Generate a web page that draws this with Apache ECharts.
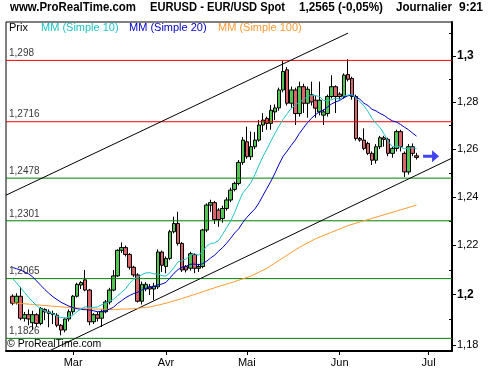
<!DOCTYPE html>
<html><head><meta charset="utf-8">
<script src="https://cdn.jsdelivr.net/npm/echarts@6/dist/echarts.min.js"></script>
<style>html,body{margin:0;padding:0;background:#fff}#c{width:500px;height:370px}</style>
</head><body><div id="c"></div><script>
// ---------- data ----------
const monthTickIdx = [15, 38, 58, 81, 103];
const monthNames = ['Mar', 'Avr', 'Mai', 'Jun', 'Jul'];
const yTickValues = [1.18, 1.2, 1.22, 1.24, 1.26, 1.28, 1.3];
const yMinorTickValues = [1.19, 1.21, 1.23, 1.25, 1.27, 1.29, 1.31];

const open = [1.1994,1.1968,1.1994,1.1906,1.1920,1.1888,1.1920,1.1885,1.1941,1.1931,
1.1925,1.1918,1.1878,1.1859,1.1903,1.1932,1.1994,1.2039,1.2060,1.2019,
1.1892,1.1920,1.1906,1.1932,1.1971,1.2019,1.2076,1.2180,1.2191,1.2163,
1.2111,1.2080,1.1974,1.2023,1.2032,1.2023,1.2032,1.2173,1.2114,1.2147,
1.2256,1.2290,1.2208,1.2114,1.2107,1.2163,1.2107,1.2114,1.2263,1.2366,
1.2376,1.2345,1.2310,1.2352,1.2387,1.2431,1.2456,1.2544,1.2631,1.2568,
1.2610,1.2638,1.2702,1.2730,1.2709,1.2758,1.2775,1.2852,1.2939,1.2795,
1.2852,1.2751,1.2866,1.2795,1.2831,1.2808,1.2758,1.2744,1.2751,1.2824,
1.2866,1.2834,1.2824,1.2919,1.2902,1.2824,1.2645,1.2638,1.2624,1.2582,
1.2553,1.2610,1.2648,1.2641,1.2582,1.2603,1.2674,1.2582,1.2504,1.2610,
1.2572];
const close = [1.1966,1.1994,1.1906,1.1920,1.1903,1.1920,1.1885,1.1945,1.1931,1.1925,
1.1921,1.1878,1.1859,1.1903,1.1932,1.1994,1.2042,1.2049,1.2019,1.1892,
1.1920,1.1906,1.1932,1.1971,1.2019,1.2076,1.2180,1.2191,1.2163,1.2111,
1.2080,1.1974,1.2042,1.2042,1.2023,1.2035,1.2173,1.2119,1.2147,1.2256,
1.2290,1.2208,1.2100,1.2100,1.2166,1.2107,1.2114,1.2263,1.2366,1.2376,
1.2306,1.2306,1.2352,1.2387,1.2428,1.2456,1.2544,1.2638,1.2568,1.2610,
1.2638,1.2702,1.2723,1.2709,1.2765,1.2775,1.2852,1.2932,1.2795,1.2852,
1.2751,1.2866,1.2795,1.2855,1.2801,1.2774,1.2808,1.2758,1.2824,1.2866,
1.2824,1.2824,1.2916,1.2898,1.2824,1.2645,1.2638,1.2603,1.2582,1.2553,
1.2610,1.2648,1.2641,1.2582,1.2603,1.2674,1.2610,1.2504,1.2610,1.2582,
1.2565];
const low = [1.1958,1.1961,1.1898,1.1893,1.1878,1.1860,1.1873,1.1878,1.1898,1.1870,
1.1883,1.1870,1.1838,1.1850,1.1893,1.1921,1.1989,1.2023,1.2014,1.1878,
1.1883,1.1893,1.1871,1.1926,1.1961,1.2014,1.2072,1.2169,1.2155,1.2102,
1.2072,1.1969,1.1961,1.2014,1.1999,1.1978,1.2023,1.2092,1.2087,1.2140,
1.2249,1.2199,1.2092,1.2090,1.2097,1.2087,1.2092,1.2107,1.2254,1.2338,
1.2288,1.2276,1.2293,1.2343,1.2378,1.2423,1.2448,1.2534,1.2559,1.2554,
1.2600,1.2631,1.2672,1.2682,1.2682,1.2723,1.2763,1.2842,1.2785,1.2775,
1.2702,1.2738,1.2753,1.2733,1.2785,1.2733,1.2743,1.2702,1.2738,1.2815,
1.2753,1.2810,1.2815,1.2889,1.2810,1.2636,1.2631,1.2595,1.2575,1.2533,
1.2539,1.2600,1.2610,1.2570,1.2564,1.2590,1.2590,1.2483,1.2493,1.2570,
1.2556];
const high = [1.2002,1.2006,1.2032,1.1931,1.1941,1.1936,1.1926,1.1951,1.1946,1.1941,
1.1936,1.1926,1.1883,1.1908,1.1941,1.1999,1.2048,1.2055,1.2100,1.2023,
1.1926,1.1931,1.1941,1.1979,1.2028,1.2100,1.2184,1.2212,1.2199,1.2169,
1.2117,1.2087,1.2053,1.2051,1.2043,1.2048,1.2184,1.2179,1.2155,1.2264,
1.2318,1.2338,1.2214,1.2120,1.2174,1.2169,1.2125,1.2268,1.2373,1.2388,
1.2383,1.2353,1.2363,1.2398,1.2438,1.2463,1.2554,1.2651,1.2695,1.2674,
1.2672,1.2723,1.2753,1.2738,1.2788,1.2790,1.2862,1.2978,1.2951,1.2867,
1.2862,1.2888,1.2879,1.2867,1.2888,1.2827,1.2888,1.2769,1.2832,1.2916,
1.2872,1.2842,1.2924,1.2985,1.2909,1.2832,1.2651,1.2688,1.2631,1.2590,
1.2621,1.2656,1.2656,1.2648,1.2610,1.2682,1.2682,1.2590,1.2621,1.2624,
1.2584];

const mm10 = [1.2065,1.2048,1.2028,1.2009,1.1989,1.1972,1.1956,1.1944,1.1934,1.1929,
1.1924,1.1914,1.1909,1.1907,1.1911,1.1918,1.1933,1.1943,1.1952,1.1949,
1.1949,1.1951,1.1959,1.1966,1.1973,1.1982,1.1996,1.2010,1.2024,1.2047,
1.2063,1.2070,1.2081,1.2088,1.2089,1.2084,1.2084,1.2077,1.2075,1.2090,
1.2111,1.2133,1.2139,1.2145,1.2159,1.2166,1.2160,1.2174,1.2196,1.2208,
1.2210,1.2220,1.2245,1.2273,1.2300,1.2335,1.2378,1.2416,1.2436,1.2459,
1.2492,1.2532,1.2569,1.2601,1.2635,1.2668,1.2698,1.2727,1.2750,1.2774,
1.2786,1.2802,1.2809,1.2825,1.2828,1.2828,1.2824,1.2806,1.2808,1.2810,
1.2817,1.2813,1.2826,1.2830,1.2832,1.2819,1.2801,1.2784,1.2760,1.2730,
1.2708,1.2691,1.2663,1.2633,1.2610,1.2613,1.2610,1.2601,1.2603,1.2606,
1.2602];
const mm20 = [1.2110,1.2105,1.2100,1.2092,1.2084,1.2072,1.2055,1.2038,1.2021,1.2006,
1.1992,1.1981,1.1970,1.1962,1.1954,1.1948,1.1944,1.1941,1.1940,1.1939,
1.1936,1.1932,1.1933,1.1936,1.1942,1.1950,1.1965,1.1976,1.1988,1.1997,
1.2005,1.2010,1.2019,1.2026,1.2031,1.2033,1.2040,1.2043,1.2050,1.2068,
1.2087,1.2102,1.2111,1.2115,1.2123,1.2124,1.2121,1.2125,1.2135,1.2148,
1.2160,1.2176,1.2191,1.2209,1.2229,1.2251,1.2268,1.2294,1.2315,1.2333,
1.2350,1.2375,1.2406,1.2436,1.2466,1.2500,1.2537,1.2570,1.2592,1.2616,
1.2638,1.2666,1.2689,1.2712,1.2731,1.2746,1.2759,1.2766,1.2779,1.2792,
1.2801,1.2807,1.2818,1.2827,1.2830,1.2823,1.2812,1.2795,1.2785,1.2769,
1.2762,1.2751,1.2743,1.2730,1.2720,1.2715,1.2705,1.2693,1.2682,1.2668,
1.2655];
const mm100Idx = [0,5,10,15,20,25,30,34,38,42,46,50,55,59,63,67,71,75,79,83,88,92,96,100];
const mm100Val = [1.1968,1.1961,1.1954,1.1948,1.1943,1.1941,1.1944,1.1951,1.1966,1.1985,1.2006,1.2028,
1.2053,1.2075,1.2107,1.2150,1.2192,1.2227,1.2254,1.2281,1.2306,1.2326,1.2346,1.2366];

const levelValues = [1.298, 1.2716, 1.2478, 1.2301, 1.2065, 1.1826];
const levelLabels = ['1,298', '1,2716', '1,2478', '1,2301', '1,2065', '1,1826'];
const levelIsResistance = [true, true, false, false, false, false];
const upperChannel = [[-1.609, 1.2407], [83.04, 1.3099]];
const lowerChannel = [[-1.609, 1.1695], [108.79, 1.2562]];
const lastPriceMarker = [103.6, 1.2570];

const titleParts = ['www.ProRealTime.com', 'EURUSD - EUR/USD Spot', '1,2565 (-0,05%)', 'Journalier', '9:21'];

// ---------- chart ----------
const FONT = '"Liberation Sans", Arial, sans-serif';
const X_MIN = -1.609, X_MAX = 108.787;
const Y_MIN = 1.1776, Y_MAX = 1.3148;
const candles = open.map((o, i) => [i, o, close[i], low[i], high[i]]);

// title layout: each part fitted into its horizontal slot
const titleSlots = [[10, 136], [150, 285], [299, 383], [396, 452], [459, 483]];
const TITLE_FONT = 'bold 13px ' + FONT;
const mctx = document.createElement('canvas').getContext('2d');
mctx.font = TITLE_FONT;
const titleGraphics = titleParts.map((t, i) => {
  const w = mctx.measureText(t).width || 1;
  const target = titleSlots[i][1] - titleSlots[i][0];
  return {type: 'text', x: titleSlots[i][0], y: 1, scaleX: Math.min(1.15, target / w), z: 10,
          style: {text: t, font: TITLE_FONT, fill: '#000', verticalAlign: 'top', align: 'left'}};
});

const chart = echarts.init(document.getElementById('c'), null, {renderer: 'canvas'});
const yFmt = v => {
  const s = String(+(+v).toFixed(2)).replace('.', ',');
  return (Math.abs(v - 1.3) < 1e-6 || Math.abs(v - 1.2) < 1e-6) ? '{b|' + s + '}' : s;
};
const levelSeries = levelValues.map((v, i) => ({
  type: 'line', name: 'level' + i, data: [[X_MIN, v], [X_MAX, v]], showSymbol: false, silent: true,
  clip: true, z: 3, lineStyle: {color: levelIsResistance[i] ? '#ff0000' : '#008000', width: 1}
}));
chart.setOption({
  animation: false,
  backgroundColor: '#fff',
  textStyle: {fontFamily: FONT},
  grid: {left: 6, right: 48, top: 22, bottom: 19, show: true, borderColor: '#000', borderWidth: 1,
         backgroundColor: '#fff', containLabel: false, outerBoundsMode: 'none'},
  xAxis: {
    type: 'value', min: X_MIN, max: X_MAX,
    axisLine: {show: true, onZero: false, lineStyle: {color: '#000', width: 2}},
    axisTick: {show: true, inside: false, length: 4, lineStyle: {color: '#000'}, customValues: monthTickIdx},
    axisLabel: {show: true, customValues: monthTickIdx, margin: 6, color: '#000', fontSize: 11, fontFamily: FONT,
      formatter: v => monthNames[monthTickIdx.indexOf(Math.round(v))] || ''},
    splitLine: {show: false}
  },
  yAxis: [{
    type: 'log', position: 'right', min: Y_MIN, max: Y_MAX,
    axisLine: {show: true, onZero: false, lineStyle: {color: '#000', width: 2}},
    axisTick: {show: true, inside: false, length: 4, lineStyle: {color: '#000'}, customValues: yTickValues},
    axisLabel: {show: true, customValues: yTickValues, margin: 5, color: '#000', fontSize: 11, fontFamily: FONT,
      formatter: yFmt, rich: {b: {fontWeight: 'bold', fontSize: 12, color: '#000', fontFamily: FONT}}},
    splitLine: {show: false}
  }, {
    type: 'log', position: 'right', min: Y_MIN, max: Y_MAX, offset: 0,
    axisLine: {show: false, onZero: false},
    axisTick: {show: true, inside: true, length: 3, lineStyle: {color: '#000'}, customValues: yMinorTickValues},
    axisLabel: {show: false},
    splitLine: {show: false}
  }],
  series: [
    {
      type: 'candlestick', name: 'Prix', yAxisIndex: 0,
      dimensions: ['idx', 'open', 'close', 'lowest', 'highest'],
      encode: {x: 'idx', y: ['open', 'close', 'lowest', 'highest']},
      data: candles, barWidth: 4,
      itemStyle: {color: '#52c552', color0: '#d9656a', borderColor: '#000', borderColor0: '#000', borderWidth: 1},
      z: 2
    },
    ...levelSeries,
    {
      type: 'scatter', name: 'levelLabels', data: levelValues.map(v => [X_MIN, v]), symbolSize: 0,
      silent: true, clip: false, z: 7,
      label: {show: true, position: [3, -12], formatter: p => levelLabels[p.dataIndex], color: '#000',
              fontSize: 10, fontFamily: FONT}
    },
    {
      type: 'scatter', name: 'lastPrice', data: [lastPriceMarker], silent: true, z: 8,
      symbol: 'path://M0,4.5 L9,4.5 L9,0 L16,6 L9,12 L9,7.5 L0,7.5 Z', symbolSize: [16, 12],
      symbolKeepAspect: false, itemStyle: {color: '#1414ee'}
    },
    {type: 'line', name: 'upper', data: upperChannel, showSymbol: false, clip: true, z: 4,
     lineStyle: {color: '#000', width: 1}},
    {type: 'line', name: 'lower', data: lowerChannel, showSymbol: false, clip: true, z: 4,
     lineStyle: {color: '#000', width: 1}},
    {type: 'line', name: 'MM (Simple 100)', data: mm100Idx.map((x, i) => [x, mm100Val[i]]), showSymbol: false,
     clip: true, z: 5, lineStyle: {color: '#ff9933', width: 1}},
    {type: 'line', name: 'MM (Simple 20)', data: mm20.map((v, i) => [i, v]), showSymbol: false,
     clip: true, z: 5, lineStyle: {color: '#0000cc', width: 1}},
    {type: 'line', name: 'MM (Simple 10)', data: mm10.map((v, i) => [i, v]), showSymbol: false,
     clip: true, z: 6, lineStyle: {color: '#1cc4c4', width: 1}}
  ],
  graphic: titleGraphics.concat([
    {type: 'text', left: 9, top: 22, z: 10, style: {text: 'Prix', font: '11px ' + FONT, fill: '#000'}},
    {type: 'text', left: 41, top: 22, z: 10, style: {text: 'MM (Simple 10)', font: '11px ' + FONT, fill: '#1cc4c4'}},
    {type: 'text', left: 129, top: 22, z: 10, style: {text: 'MM (Simple 20)', font: '11px ' + FONT, fill: '#0000cc'}},
    {type: 'text', left: 218, top: 22, z: 10, style: {text: 'MM (Simple 100)', font: '11px ' + FONT, fill: '#ff9933'}},
    {type: 'text', left: 7, top: 339, z: 10, style: {text: '\u00a9 ProRealTime.com', font: '10.5px ' + FONT, fill: '#000'}}
  ])
});
</script></body></html>
